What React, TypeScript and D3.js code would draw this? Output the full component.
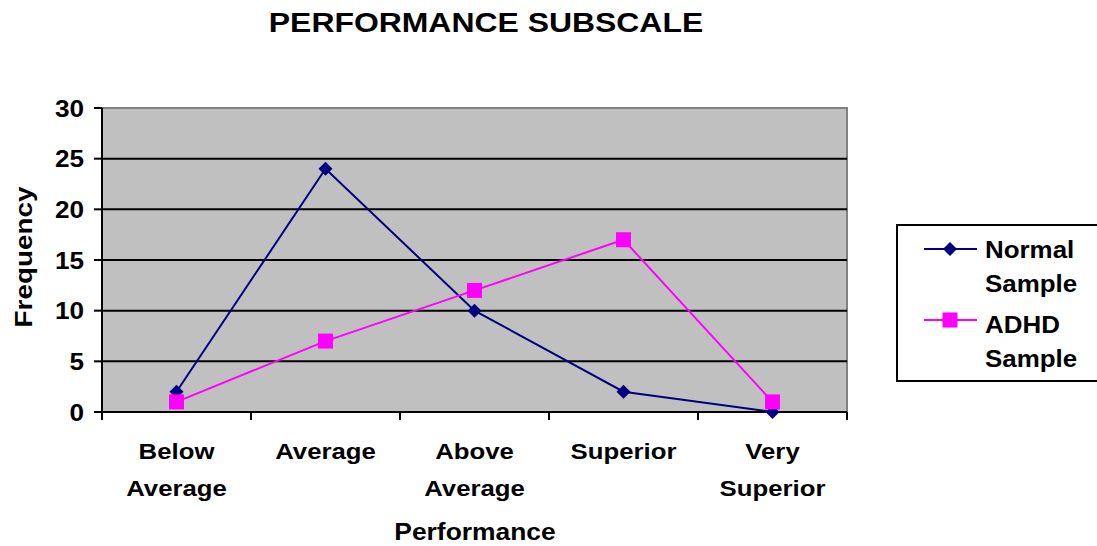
import React from "react";
import * as d3 from "d3";

const categories = [["Below", "Average"], ["Average"], ["Above", "Average"], ["Superior"], ["Very", "Superior"]];
const normalValues = [2, 24, 10, 2, 0];
const adhdValues = [1, 7, 12, 17, 1];
const yTicks = [0, 5, 10, 15, 20, 25, 30];
const seriesNames = [["Normal", "Sample"], ["ADHD", "Sample"]];

const W = 1097, H = 546;
const left = 102, right = 847, top = 108, bottom = 412;
const font = "'Liberation Sans', Arial, sans-serif";

function T({ x, y, lines, size, sx = 1, anchor = "start", lh = 35, rotate = 0 }: any) {
  return (
    <g transform={`translate(${x},${y}) rotate(${rotate}) scale(${sx},1)`}>
      <text textAnchor={anchor} fontSize={size} fontWeight="bold" fontFamily={font}>
        {lines.map((s: string, k: number) => (
          <tspan key={k} x={0} y={k * lh}>{s}</tspan>
        ))}
      </text>
    </g>
  );
}

export default function App() {
  const x = d3.scaleBand<number>().domain(d3.range(categories.length)).range([left, right]);
  const y = d3.scaleLinear().domain([0, 30]).range([bottom, top]);
  const cx = (i: number) => (x(i) as number) + x.bandwidth() / 2;
  const line = d3.line<number>().x((_, i) => cx(i)).y((d) => y(d));
  const diamond = (px: number, py: number, r = 7) => `M${px},${py - r}L${px + r},${py}L${px},${py + r}L${px - r},${py}Z`;
  const sq = 15;

  return (
    <svg width={W} height={H} style={{ position: "absolute", left: 0, top: 0, background: "#fff" }} fontFamily={font}>
      <T x={486} y={32} lines={["PERFORMANCE SUBSCALE"]} size={28} sx={1.14} anchor="middle" />
      <rect x={left} y={top} width={right - left} height={bottom - top} fill="#C0C0C0" />
      <path d={`M${left},${top}H${right}V${bottom}`} fill="none" stroke="#808080" strokeWidth={2} />
      {yTicks.filter((t) => t > 0 && t < 30).map((t) => (
        <line key={t} x1={left} x2={right} y1={y(t)} y2={y(t)} stroke="#000" strokeWidth={2} />
      ))}
      <line x1={left} x2={left} y1={top} y2={bottom} stroke="#000" strokeWidth={2} />
      <line x1={left} x2={right} y1={bottom} y2={bottom} stroke="#000" strokeWidth={2} />
      {yTicks.map((t) => (
        <g key={t}>
          <line x1={left - 8} x2={left} y1={y(t)} y2={y(t)} stroke="#000" strokeWidth={2} />
          <T x={84} y={y(t) + 8.5} lines={[String(t)]} size={24} sx={1.09} anchor="end" />
        </g>
      ))}
      {d3.range(categories.length + 1).map((i) => {
        const px = i < categories.length ? (x(i) as number) : right;
        return <line key={i} x1={px} x2={px} y1={bottom} y2={bottom + 8} stroke="#000" strokeWidth={2} />;
      })}
      {categories.map((c, i) => (
        <T key={i} x={cx(i)} y={459} lines={c} size={23} sx={1.12} anchor="middle" lh={37} />
      ))}
      <T x={475} y={540} lines={["Performance"]} size={24} sx={1.1} anchor="middle" />
      <T x={32} y={257} lines={["Frequency"]} size={24} sx={1.16} anchor="middle" rotate={-90} />

      <path d={line(normalValues) || ""} fill="none" stroke="#000080" strokeWidth={2} />
      {normalValues.map((v, i) => <path key={i} d={diamond(cx(i), y(v))} fill="#000080" />)}
      <path d={line(adhdValues) || ""} fill="none" stroke="#FF00FF" strokeWidth={2} />
      {adhdValues.map((v, i) => <rect key={i} x={cx(i) - sq / 2} y={y(v) - sq / 2} width={sq} height={sq} fill="#FF00FF" />)}

      <rect x={897} y={225} width={215} height={156} fill="#fff" stroke="#000" strokeWidth={2} />
      <line x1={924} x2={977} y1={249} y2={249} stroke="#000080" strokeWidth={2} />
      <path d={diamond(950, 249)} fill="#000080" />
      <line x1={924} x2={977} y1={320} y2={320} stroke="#FF00FF" strokeWidth={2} />
      <rect x={950 - sq / 2} y={320 - sq / 2} width={sq} height={sq} fill="#FF00FF" />
      {seriesNames.map((n, si) => (
        <T key={si} x={985} y={258 + si * 75} lines={n} size={24} sx={1.08} lh={34.5} />
      ))}
    </svg>
  );
}
